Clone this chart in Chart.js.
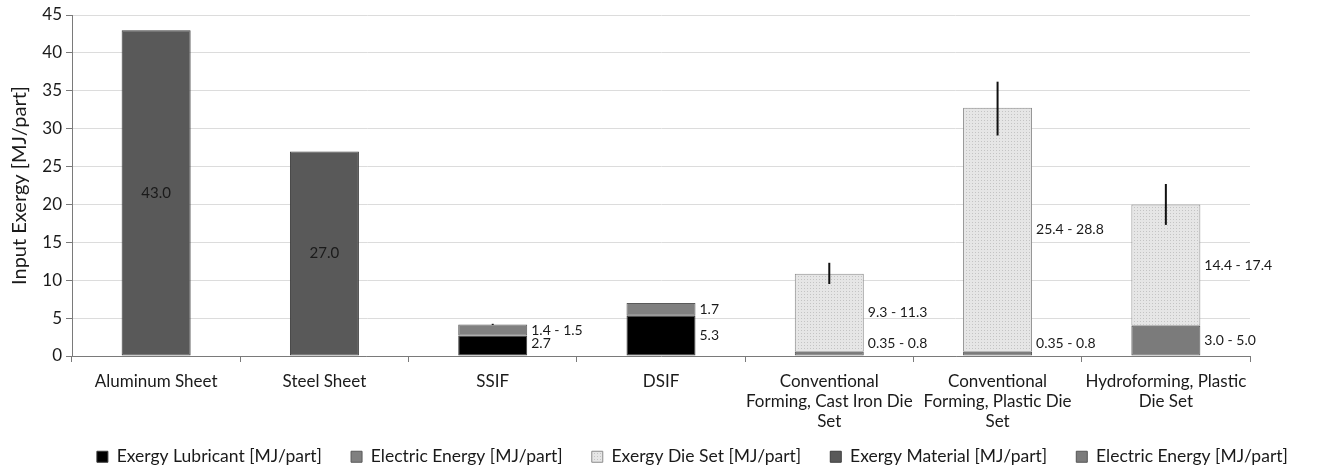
<!DOCTYPE html>
<html>
<head>
<meta charset="utf-8">
<script src="https://cdn.jsdelivr.net/npm/chart.js@4.4.1/dist/chart.umd.min.js"></script>
<style>
  html, body { margin: 0; background: #fff; }
  #wrap { width: 1322px; height: 470px; }
</style>
</head>
<body>
<div id="wrap"><canvas id="c"></canvas></div>
<script>
// ── Data ────────────────────────────────────────────────────────────────────

const categories = [
  "Aluminum Sheet",
  "Steel Sheet",
  "SSIF",
  "DSIF",
  ["Conventional", "Forming, Cast Iron Die", "Set"],
  ["Conventional", "Forming, Plastic Die", "Set"],
  ["Hydroforming, Plastic", "Die Set"]
];

// stack order bottom -> top
const lubricant       = [null, null, 2.7, 5.3, null, null, null];
const electricProcess = [null, null, 1.45, 1.7, null, null, null];
const electricForming = [null, null, null, null, 0.55, 0.55, 4.0];
const dieSet          = [null, null, null, null, 10.3, 32.2, 16.0];
const material        = [43.0, 27.0, null, null, null, null, null];

// error bar range on stack totals
const errLow  = [null, null, 4.1, null, 9.5, 29.1, 17.3];
const errHigh = [null, null, 4.25, null, 12.3, 36.2, 22.7];

// value labels
const lubricantLabels       = [null, null, "2.7", "5.3", null, null, null];
const electricProcessLabels = [null, null, "1.4 - 1.5", "1.7", null, null, null];
const electricFormingLabels = [null, null, null, null, "0.35 - 0.8", "0.35 - 0.8", "3.0 - 5.0"];
const dieSetLabels          = [null, null, null, null, "9.3 - 11.3", "25.4 - 28.8", "14.4 - 17.4"];
const materialLabels        = ["43.0", "27.0", null, null, null, null, null];

// legend shows the series in this order
const legendRank = [0, 1, 4, 2, 3];

// ── Styling helpers ─────────────────────────────────────────────────────────

const FONT = "Lato";
const TEXT = "#1a1a1a";
const AXIS = "#7a7a7a";
const canvas = document.getElementById("c");

function dotPattern() {
  const p = document.createElement("canvas");
  p.width = 3; p.height = 3;
  const g = p.getContext("2d");
  g.fillStyle = "#e6e6e6";
  g.fillRect(0, 0, 3, 3);
  g.fillStyle = "#c4c4c4";
  g.fillRect(0, 0, 1, 1);
  return canvas.getContext("2d").createPattern(p, "repeat");
}

// ── Plugins ─────────────────────────────────────────────────────────────────

const errorBars = {
  id: "errorBars",
  afterDatasetsDraw(chart) {
    const { ctx, scales: { x, y } } = chart;
    ctx.save();
    ctx.strokeStyle = "#111";
    ctx.lineWidth = 2;
    errLow.forEach((lo, i) => {
      if (lo == null) return;
      const px = x.getPixelForValue(i);
      ctx.beginPath();
      ctx.moveTo(px, y.getPixelForValue(lo));
      ctx.lineTo(px, y.getPixelForValue(errHigh[i]));
      ctx.stroke();
    });
    ctx.restore();
  }
};

const valueLabels = {
  id: "valueLabels",
  afterDatasetsDraw(chart) {
    const { ctx, chartArea } = chart;
    ctx.save();
    ctx.fillStyle = TEXT;
    ctx.textBaseline = "middle";
    chart.data.datasets.forEach((ds, di) => {
      const meta = chart.getDatasetMeta(di);
      ds.valueLabels.forEach((txt, i) => {
        if (!txt) return;
        const bar = meta.data[i];
        const mid = (bar.y + bar.base) / 2;
        if (ds.labelInside) {
          ctx.font = `15px ${FONT}`;
          ctx.textAlign = "center";
          ctx.fillText(txt, bar.x, mid);
        } else {
          ctx.font = `14px ${FONT}`;
          ctx.textAlign = "left";
          ctx.fillText(txt, bar.x + bar.width / 2 + 4, Math.min(mid, chartArea.bottom - 13));
        }
      });
    });
    ctx.restore();
  }
};

// ── Chart ───────────────────────────────────────────────────────────────────

function series(label, data, labels, color, border, extra) {
  return Object.assign({
    label, data,
    valueLabels: labels,
    backgroundColor: color,
    borderColor: border,
    borderWidth: 1,
    borderSkipped: false,
    categoryPercentage: 1,
    barPercentage: 0.41
  }, extra || {});
}

new Chart(canvas, {
  type: "bar",
  data: {
    labels: categories,
    datasets: [
      series("Exergy Lubricant [MJ/part]", lubricant, lubricantLabels, "#000000", "#3a3a3a"),
      series("Electric Energy [MJ/part]", electricProcess, electricProcessLabels, "#808080", "#5a5a5a"),
      series("Electric Energy [MJ/part]", electricForming, electricFormingLabels, "#7b7b7b", "#555555"),
      series("Exergy Die Set [MJ/part]", dieSet, dieSetLabels, dotPattern(), "#8a8a8a"),
      series("Exergy Material [MJ/part]", material, materialLabels, "#595959", "#3c3c3c", { labelInside: true })
    ]
  },
  plugins: [errorBars, valueLabels],
  options: {
    responsive: true,
    maintainAspectRatio: false,
    animation: false,
    layout: { padding: { top: 15, right: 5, left: 0, bottom: 0 } },
    plugins: {
      tooltip: { enabled: false },
      legend: {
        position: "bottom",
        align: "end",
        maxHeight: 38,
        labels: {
          font: { family: FONT, size: 17.5 },
          color: TEXT,
          boxWidth: 11,
          boxHeight: 11,
          padding: 16,
          // an em space after each entry widens the gap between items
          generateLabels: chart => Chart.defaults.plugins.legend.labels.generateLabels(chart)
            .map(item => Object.assign(item, { text: item.text + "\u2003" })),
          sort: (a, b) => legendRank[a.datasetIndex] - legendRank[b.datasetIndex]
        }
      }
    },
    scales: {
      x: {
        stacked: true,
        afterFit: s => { s.height = 76; },
        grid: { drawOnChartArea: false, color: AXIS, tickLength: 6 },
        border: { color: AXIS, width: 1 },
        ticks: { font: { family: FONT, size: 17, lineHeight: 1.2 }, color: TEXT, maxRotation: 0, autoSkip: false, padding: 9 }
      },
      y: {
        stacked: true,
        min: 0, max: 45,
        afterFit: s => { s.width = 72; },
        grid: { color: "#dcdcdc", tickLength: 6, tickColor: AXIS },
        border: { color: AXIS, width: 1 },
        ticks: { stepSize: 5, font: { family: FONT, size: 17 }, color: TEXT, padding: 4 },
        title: { display: true, text: "Input Exergy [MJ/part]", font: { family: FONT, size: 20 }, color: TEXT, padding: 8 }
      },
      // keeps the plot clear of the right-hand value labels
      yRight: {
        position: "right",
        afterFit: s => { s.width = 67; },
        grid: { display: false },
        border: { display: false },
        ticks: { display: false }
      }
    }
  }
});
</script>
</body>
</html>
